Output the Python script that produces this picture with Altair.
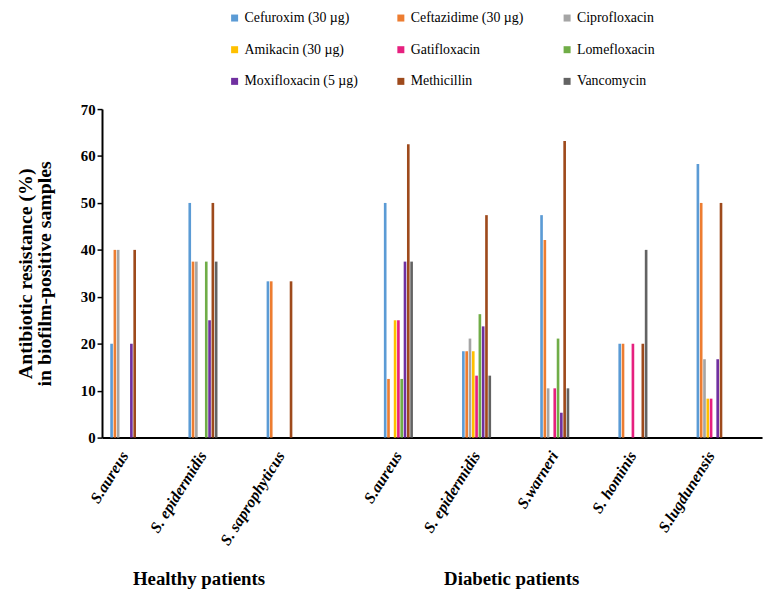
import altair as alt
import pandas as pd

antibiotics = ["Cefuroxim (30 µg)", "Ceftazidime  (30 µg)", "Ciprofloxacin",
               "Amikacin (30 µg)", "Gatifloxacin", "Lomefloxacin",
               "Moxifloxacin (5 µg)", "Methicillin", "Vancomycin"]
colors = ["#5B9BD5", "#ED7D31", "#A5A5A5", "#FFC000", "#E6207F",
          "#70AD47", "#7030A0", "#9E4A1C", "#636363"]

species = ["S.aureus", "S. epidermidis", "S. saprophyticus",
           "S.aureus", "S. epidermidis", "S.warneri", "S. hominis", "S.lugdunensis"]
groups = ["H", "H", "H", "D", "D", "D", "D", "D"]

cefuroxim     = [20, 50, 33.3, 50, 18.4, 47.4, 20, 58.3]
ceftazidime   = [40, 37.5, 33.3, 12.5, 18.4, 42.1, 20, 50]
ciprofloxacin = [40, 37.5, 0, 0, 21.1, 10.5, 0, 16.7]
amikacin      = [0, 0, 0, 25, 18.4, 0, 0, 8.3]
gatifloxacin  = [0, 0, 0, 25, 13.2, 10.5, 20, 8.3]
lomefloxacin  = [0, 37.5, 0, 12.5, 26.3, 21.1, 0, 0]
moxifloxacin  = [20, 25, 0, 37.5, 23.7, 5.3, 0, 16.7]
methicillin   = [40, 50, 33.3, 62.5, 47.4, 63.2, 20, 50]
vancomycin    = [0, 37.5, 0, 37.5, 13.2, 10.5, 40, 0]

series = [cefuroxim, ceftazidime, ciprofloxacin, amikacin, gatifloxacin,
          lomefloxacin, moxifloxacin, methicillin, vancomycin]

group_titles = ["Healthy patients", "Diabetic patients"]

keys = [f"{g}{i}:{s}" for i, (g, s) in enumerate(zip(groups, species))]
# category slots with blank spacers between them
slots = [keys[0], " 1", keys[1], " 2", keys[2], " 3", " 4", keys[3], " 5",
         keys[4], " 6", keys[5], " 7", keys[6], " 8", keys[7]]

rows = []
for ab, vals in zip(antibiotics, series):
    for k, v in zip(keys, vals):
        rows.append({"slot": k, "antibiotic": ab, "value": v})
df = pd.DataFrame(rows)

lab_df = pd.DataFrame({"slot": [slots[2], slots[10]], "label": group_titles})

W, H = 667, 332
SERIF = "Liberation Serif"

xscale = alt.Scale(domain=slots, paddingInner=0.24, paddingOuter=0.563, align=0.18)

bars = alt.Chart(df).mark_bar().encode(
    x=alt.X("slot:N", scale=xscale, sort=slots,
            axis=alt.Axis(title=None, labelExpr="indexof(datum.label, ':') >= 0 ? split(datum.label, ':')[1] : ''",
                          labelAngle=-58, labelFontStyle="italic", labelFontWeight="bold",
                          labelFontSize=16, labelPadding=15, ticks=False, labelColor="black")),
    xOffset=alt.XOffset("antibiotic:N", sort=antibiotics,
                        scale=alt.Scale(domain=antibiotics, paddingInner=0.2, paddingOuter=0.1)),
    y=alt.Y("value:Q", scale=alt.Scale(domain=[0, 70]),
            axis=alt.Axis(values=list(range(0, 71, 10)), title=["Antibiotic resistance (%)", "in biofilm-positive samples"],
                          tickSize=5, tickColor="black", tickWidth=1.5, labelFontWeight="bold",
                          labelFontSize=15, labelPadding=2, titleFontSize=20, titleLineHeight=19,
                          titleFontWeight="bold",
                          titlePadding=26, titleColor="black", labelColor="black", grid=False)),
    color=alt.Color("antibiotic:N", sort=antibiotics,
                    scale=alt.Scale(domain=antibiotics, range=colors),
                    legend=alt.Legend(title=None, orient="none", legendX=127, legendY=-99,
                                      direction="horizontal",
                                      columns=3, gridAlign="all", columnPadding=33, rowPadding=18,
                                      symbolType="square", symbolSize=50, symbolStrokeWidth=0,
                                      labelFont=SERIF, labelLimit=300,
                                      labelFontSize=14, labelColor="black", labelOffset=3, padding=0)),
)

texts = alt.Chart(lab_df).mark_text(fontSize=19, fontWeight="bold", font=SERIF,
                                    color="black", baseline="middle", dx=-4).encode(
    x=alt.X("slot:N", scale=xscale, sort=slots),
    text="label:N",
    y=alt.value(H + 143),
)

chart = alt.layer(bars, texts).properties(
    width=W, height=H,
    autosize=alt.AutoSizeParams(type="none"),
    padding={"left": 95, "top": 99, "right": 4, "bottom": 164},
).configure_view(strokeWidth=0).configure_axis(
    domainColor="black", domainWidth=2, labelFont=SERIF, titleFont=SERIF, grid=False
).configure_legend(labelFont=SERIF)

chart.save("out.html", embed_options={"renderer": "svg", "actions": False})
